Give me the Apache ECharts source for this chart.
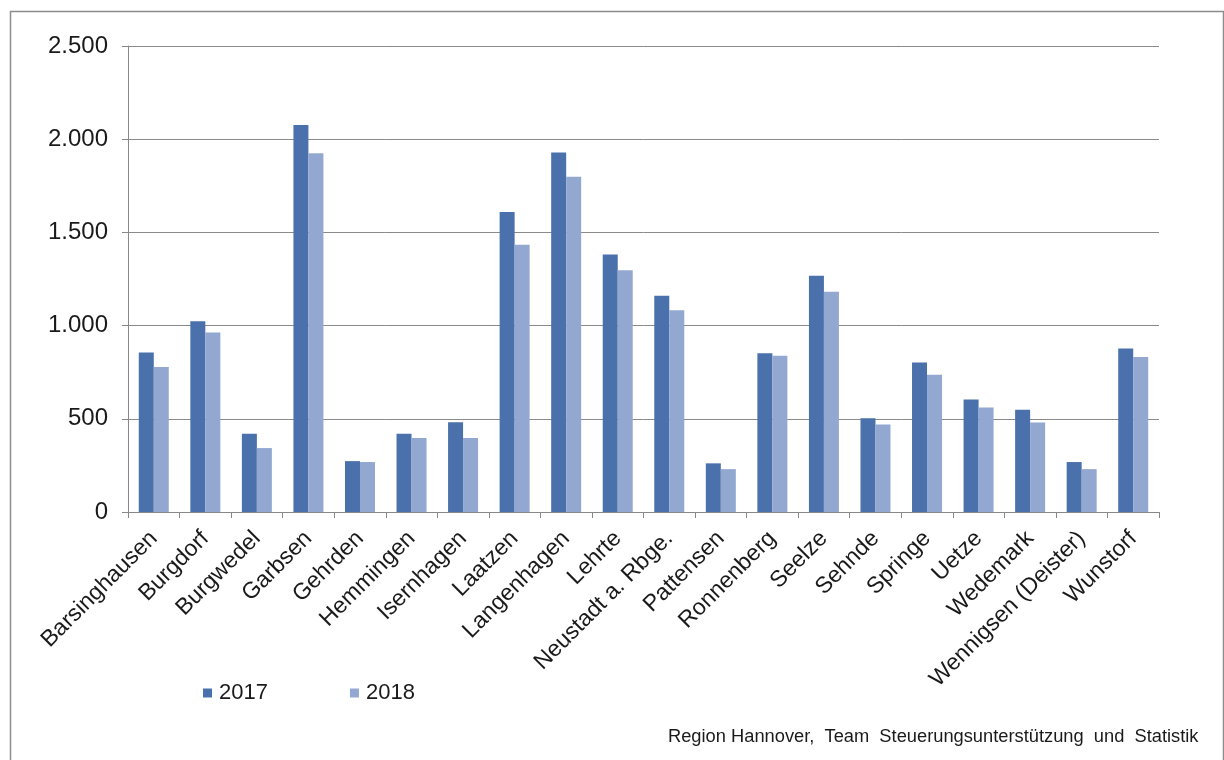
<!DOCTYPE html>
<html><head><meta charset="utf-8">
<script src="https://cdn.jsdelivr.net/npm/echarts@6/dist/echarts.min.js"></script>
<style>html,body{margin:0;padding:0;background:#fff}#c{width:1224px;height:760px}</style>
</head><body><div id="c"></div>
<script>
const categories = ["Barsinghausen","Burgdorf","Burgwedel","Garbsen","Gehrden","Hemmingen","Isernhagen","Laatzen","Langenhagen","Lehrte","Neustadt a. Rbge.","Pattensen","Ronnenberg","Seelze","Sehnde","Springe","Uetze","Wedemark","Wennigsen (Deister)","Wunstorf"];
const values2017 = [856,1023,420,2076,273,420,481,1610,1929,1381,1160,261,852,1268,503,802,603,549,268,877];
const values2018 = [778,963,343,1924,268,397,397,1434,1798,1297,1083,230,838,1182,470,736,560,480,230,832];
const seriesNames = ["2017","2018"];
const yTicks = {min:0, max:2500, interval:500};
const sourceText = "Region Hannover,  Team  Steuerungsunterstützung  und  Statistik";

const chart = echarts.init(document.getElementById('c'), null, {renderer:'canvas'});
const font = "'Liberation Sans', Arial, sans-serif";
chart.setOption({
  animation:false,
  backgroundColor:'#fff',
  grid:{left:128, right:65, top:46, bottom:248},
  legend:{
    left:198, top:677, itemWidth:9, itemHeight:9, itemGap:82,
    icon:'rect',
    textStyle:{fontFamily:font, fontSize:22, color:'#1a1a1a', padding:[0,0,0,2]},
    data:seriesNames
  },
  graphic:[
    {type:'rect', left:8, top:9, shape:{width:1213, height:760}, style:{fill:'none', stroke:'#8c8c8c', lineWidth:1.5}, silent:true},
    {type:'text', left:668, top:728, style:{text:sourceText, fontFamily:font, fontSize:18.3, fill:'#1a1a1a'}}
  ],
  xAxis:{
    type:'category', data:categories, boundaryGap:true,
    axisLine:{lineStyle:{color:'#888', width:1}},
    axisTick:{show:true, length:6, alignWithLabel:false, lineStyle:{color:'#888'}},
    axisLabel:{rotate:45, interval:0, margin:23, fontFamily:font, fontSize:23, color:'#1a1a1a'}
  },
  yAxis:{
    type:'value', min:yTicks.min, max:yTicks.max, interval:yTicks.interval,
    axisLine:{show:true, lineStyle:{color:'#888', width:1}},
    axisTick:{show:true, length:6, lineStyle:{color:'#888'}},
    splitLine:{lineStyle:{color:'#8a8a8a', width:1}},
    axisLabel:{margin:20, fontFamily:font, fontSize:24, color:'#1a1a1a',
      formatter:v=>String(v).replace(/\B(?=(\d{3})+(?!\d))/g,'.')}
  },
  series:[
    {name:seriesNames[0], type:'bar', data:values2017, barWidth:15, barGap:'0%', itemStyle:{color:'#4a71ab'}},
    {name:seriesNames[1], type:'bar', data:values2018, barWidth:15, barGap:'0%', itemStyle:{color:'#93a8d1'}}
  ]
});
</script></body></html>
